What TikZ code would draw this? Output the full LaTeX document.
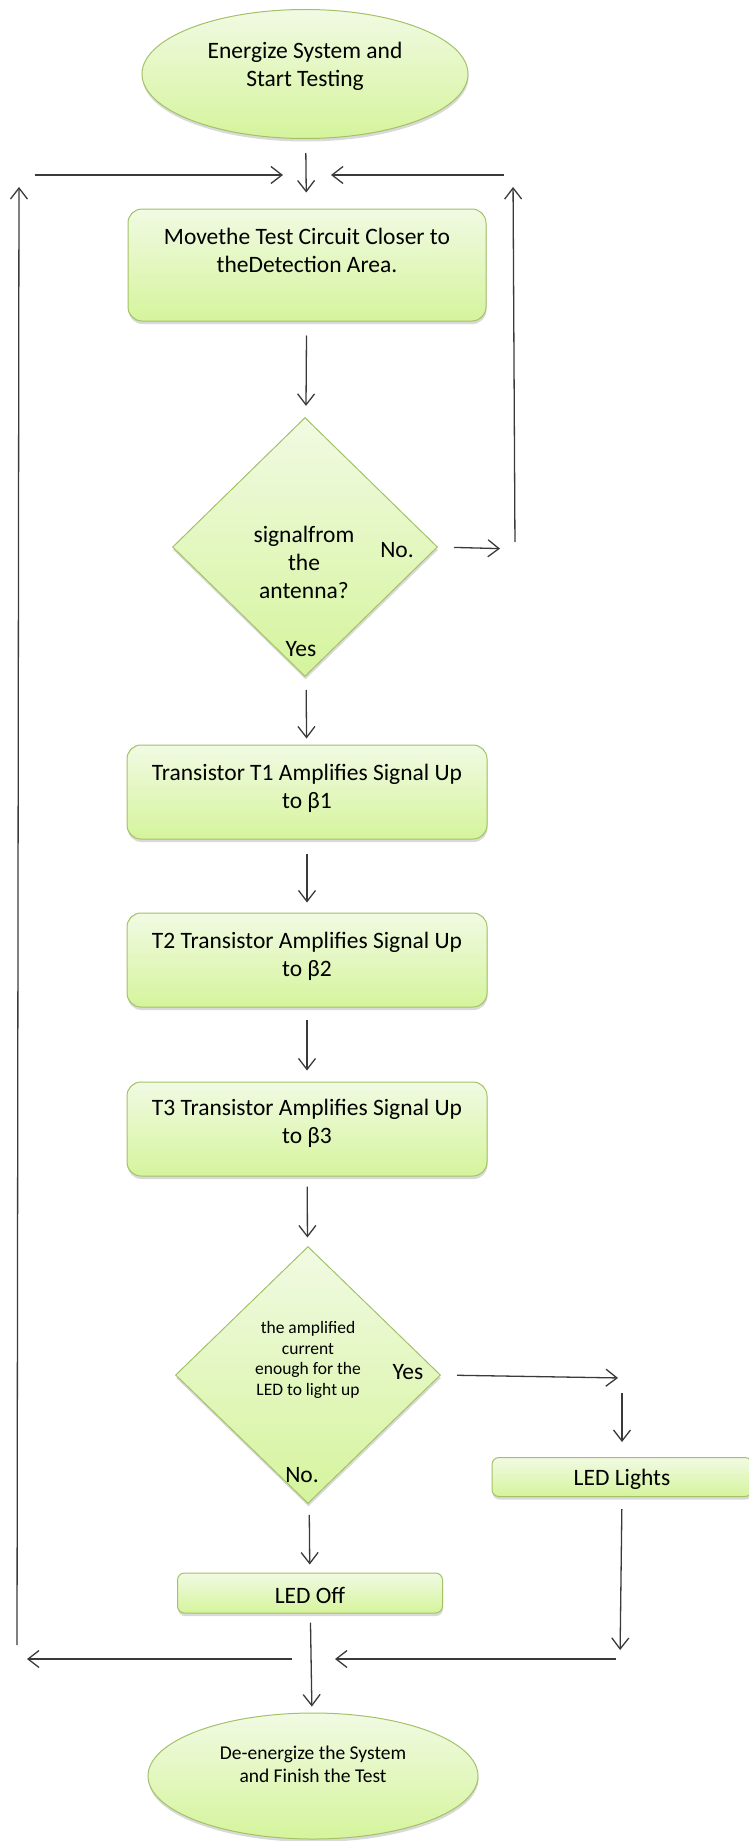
\documentclass[tikz,border=0pt]{standalone}
\usepackage{fontspec}
\setmainfont{Carlito}
\usetikzlibrary{shapes.geometric,arrows.meta,shadows}

\definecolor{boxtop}{HTML}{F1FAE3}
\definecolor{boxbot}{HTML}{D5F49C}
\definecolor{boxline}{HTML}{A3C266}
\definecolor{arrline}{HTML}{3A3A3A}

\tikzset{
  greenfill/.style={draw=boxline, line width=1pt, top color=boxtop, bottom color=boxbot,
    drop shadow={shadow xshift=0.5pt, shadow yshift=-3pt, opacity=0.3}},
  termin/.style={greenfill, ellipse},
  flowbox/.style={greenfill, rectangle, rounded corners=14pt},
  smallbox/.style={greenfill, rectangle, rounded corners=7pt},
  decide/.style={greenfill, diamond, inner sep=0pt},
  txt/.style={align=center, font=\fontsize{23.5}{28}\selectfont, text=black},
  arr/.style={draw=arrline, line width=1.3pt, -{Straight Barb[length=11pt,width=17pt]}}
}

\begin{document}
\begin{tikzpicture}[x=1pt, y=-1pt]
\useasboundingbox (0,0) rectangle (749,1841);

% Start
\node[termin, minimum width=326, minimum height=129] (start) at (305,74) {};
\node[txt] (starttxt) at (305,66) {Energize System and\\Start Testing};

% Move the circuit
\node[flowbox, minimum width=358, minimum height=112] (move) at (307,265) {};
\node[txt] (movetxt) at (307,250) {Movethe Test Circuit Closer to\\theDetection Area.};

% Signal check
\node[decide, minimum width=265, minimum height=259] (check) at (305,547) {};
\node[txt] (checktxt) at (304,562) {signalfrom\\the\\antenna?};
\node[txt] (checkno) at (397,550) {No.};
\node[txt] (checkyes) at (301,649) {Yes};

% Amplifier stages
\node[flowbox, minimum width=360, minimum height=94] (t1) at (307,792) {};
\node[txt] (t1txt) at (307,788) {Transistor T1 Amplifies Signal Up\\to β1};
\node[flowbox, minimum width=360, minimum height=94] (t2) at (307,960) {};
\node[txt] (t2txt) at (307,956) {T2 Transistor Amplifies Signal Up\\to β2};
\node[flowbox, minimum width=360, minimum height=94] (t3) at (307,1129) {};
\node[txt] (t3txt) at (307,1123) {T3 Transistor Amplifies Signal Up\\to β3};

% Current check
\node[decide, minimum width=265, minimum height=257] (enough) at (308,1375) {};
\node[txt, font=\fontsize{17.5}{20.5}\selectfont] (enoughtxt) at (308,1360)
  {the amplified\\current\\enough for the\\LED to light up};
\node[txt] (enoughyes) at (408,1372) {Yes};
\node[txt] (enoughno) at (302,1475) {No.};

% LED states
\node[smallbox, minimum width=260, minimum height=39] (lights) at (622,1477) {};
\node[txt] (lightstxt) at (622,1479) {LED Lights};
\node[smallbox, minimum width=265, minimum height=40] (off) at (310,1593) {};
\node[txt] (offtxt) at (310,1595) {LED Off};

% Stop
\node[termin, minimum width=330, minimum height=126] (stop) at (313,1776) {};
\node[txt, font=\fontsize{19.5}{23}\selectfont] (stoptxt) at (313,1764)
  {De-energize the System\\and Finish the Test};

% Free ends of the loops
\coordinate (loopL) at (19,175);
\coordinate (joinT) at (307,175);
\coordinate (loopR) at (513,175);
\coordinate (noR) at (515,549);
\coordinate (yesR) at (622,1378);
\coordinate (loopLB) at (17,1659);
\coordinate (joinB) at (310,1659);
\coordinate (loopRB) at (620,1659);

% Main flow
\draw[arr, shorten <=14pt, shorten >=16pt] (start) -- (move);
\draw[arr, shorten <=14pt, shorten >=12pt] (move) -- (check);
\draw[arr, shorten <=14pt, shorten >=6pt] (check) -- (t1);
\draw[arr, shorten <=14pt, shorten >=10pt] (t1) -- (t2);
\draw[arr, shorten <=12pt, shorten >=11pt] (t2) -- (t3);
\draw[arr, shorten <=10pt, shorten >=9pt] (t3) -- (enough);
\draw[arr, shorten <=12pt, shorten >=8pt] (enough) -- (off);
\draw[arr, shorten <=9pt, shorten >=6pt] (off) -- (stop);

% Yes branch
\draw[arr, shorten <=16pt, shorten >=4pt] (enough.east) -- (yesR);
\draw[arr, shorten <=15pt, shorten >=15pt] (yesR) -- (lights.north);
\draw[arr, shorten <=12pt, shorten >=9pt] (lights.south) -- (loopRB);

% No branch back to the top
\draw[arr, shorten <=16pt, shorten >=15pt] (check.east) -- (noR);
\draw[arr, shorten <=7pt, shorten >=12pt] (noR) -- (loopR);
\draw[arr, shorten <=9pt, shorten >=24pt] (loopR) -- (joinT);

% Left return line
\draw[arr, shorten <=4pt, shorten >=25pt] (loopRB) -- (joinB);
\draw[arr, shorten <=18pt, shorten >=10pt] (joinB) -- (loopLB);
\draw[arr, shorten <=14pt, shorten >=12pt] (loopLB) -- (loopL);
\draw[arr, shorten <=16pt, shorten >=24pt] (loopL) -- (joinT);

\end{tikzpicture}
\end{document}
